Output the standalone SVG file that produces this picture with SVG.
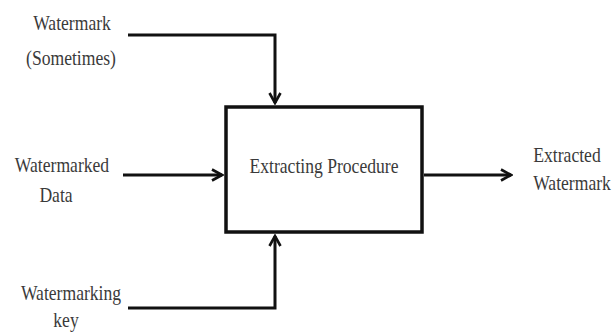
<svg xmlns="http://www.w3.org/2000/svg" width="613" height="332" viewBox="0 0 613 332">
<defs>
<style>
text{font-family:"Liberation Serif","Times New Roman",serif;font-size:22px;fill:#3a3a3a;text-anchor:middle}
.ln{fill:none;stroke:#111;stroke-width:3}
.box{fill:#fff;stroke:#111;stroke-width:3.5}
</style>
<marker id="ah" viewBox="0 0 14 14" refX="12" refY="7" markerWidth="14" markerHeight="14" markerUnits="userSpaceOnUse" orient="auto">
<path d="M2,1.5 L12,7 L2,12.5" fill="none" stroke="#111" stroke-width="2.6"/>
</marker>
</defs>
<rect width="613" height="332" fill="#fff"/>
<g id="connectors">
<path class="ln" d="M128,35 H275 V103" marker-end="url(#ah)"/>
<path class="ln" d="M123,175 H222" marker-end="url(#ah)"/>
<path class="ln" d="M424,175 H511" marker-end="url(#ah)"/>
<path class="ln" d="M128,308 H275 V236" marker-end="url(#ah)"/>
</g>
<g id="procedure">
<rect class="box" x="226" y="107" width="196" height="125"/>
<text font-family="Liberation Serif, serif" transform="translate(324,173) scale(0.8,1)">Extracting Procedure</text>
</g>
<g id="watermark" font-family="Liberation Serif, serif">
<text transform="translate(72,30) scale(0.8,1)">Watermark</text>
<text transform="translate(71,65) scale(0.8,1)">(Sometimes)</text>
</g>
<g id="watermarked-data" font-family="Liberation Serif, serif">
<text transform="translate(62,172) scale(0.8,1)">Watermarked</text>
<text transform="translate(56,202) scale(0.8,1)">Data</text>
</g>
<g id="key" font-family="Liberation Serif, serif">
<text transform="translate(71,300) scale(0.8,1)">Watermarking</text>
<text transform="translate(66,327) scale(0.8,1)">key</text>
</g>
<g id="extracted" font-family="Liberation Serif, serif">
<text transform="translate(567,162) scale(0.8,1)">Extracted</text>
<text transform="translate(572,190) scale(0.8,1)">Watermark</text>
</g>
</svg>
